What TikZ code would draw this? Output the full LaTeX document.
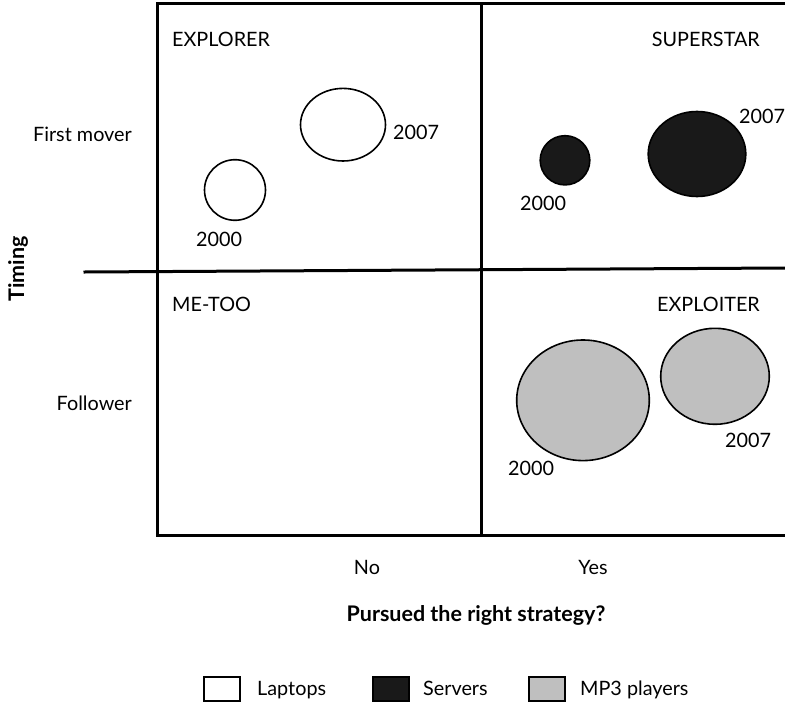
\documentclass[tikz,border=0pt]{standalone}
\usepackage{fontspec}
\setmainfont{Lato}
\begin{document}
\begin{tikzpicture}[x=1pt,y=-1pt,
  frame/.style={line width=3pt,line cap=rect},
  bubble/.style={line width=1.6pt},
  lab/.style={inner sep=0pt,font=\fontsize{19.8}{23}\selectfont},
  axis/.style={inner sep=0pt,font=\fontsize{21.5}{25}\selectfont\bfseries},
  keybox/.style={draw,line width=2pt,minimum width=36pt,minimum height=24pt,inner sep=0pt},
  laptop/.style={fill=white},
  server/.style={fill=black!90},
  mpthree/.style={fill=black!25}]
\useasboundingbox (0,0) rectangle (785,706);

% quadrant frame, open on the right
\draw[frame] (785,4) -- (157,4) -- (157,535) -- (785,535);
\draw[frame] (481,4) -- (481,535);
\draw[frame] (85,272) -- (785,268);

% quadrant titles
\node[lab,anchor=base west] (explorer) at (172,47) {EXPLORER};
\node[lab,anchor=base east] (superstar) at (760,47) {SUPERSTAR};
\node[lab,anchor=base west] (metoo) at (172,311) {ME-TOO};
\node[lab,anchor=base east] (exploiter) at (760,311.5) {EXPLOITER};

% vertical axis
\node[lab,anchor=base east] (first) at (132,141.5) {First mover};
\node[lab,anchor=base east] (follower) at (132,410.5) {Follower};
\node[axis,rotate=90] (timing) at (18,269) {Timing};

% horizontal axis
\node[lab,anchor=base] (no) at (367,574) {No};
\node[lab,anchor=base] (yes) at (593,574) {Yes};
\node[axis,anchor=base] (strategy) at (476,621) {Pursued the right strategy?};

% laptops
\draw[bubble,laptop] (235,190) ellipse [x radius=30.5,y radius=30.3];
\draw[bubble,laptop] (343,124.7) ellipse [x radius=42.5,y radius=36.3];
\node[lab,anchor=base west] (l00) at (196,246.5) {2000};
\node[lab,anchor=base west] (l07) at (393,140) {2007};

% servers
\draw[bubble,server] (565,160.3) ellipse [x radius=24.8,y radius=24.6];
\draw[bubble,server] (697,154) ellipse [x radius=48.8,y radius=42.5];
\node[lab,anchor=base west] (s00) at (520,210.5) {2000};
\node[lab,anchor=base west] (s07) at (739,124) {2007};

% MP3 players
\draw[bubble,mpthree] (583,400.3) ellipse [x radius=66.3,y radius=60.3];
\draw[bubble,mpthree] (715,376.3) ellipse [x radius=54.3,y radius=48];
\node[lab,anchor=base west] (m00) at (508,475) {2000};
\node[lab,anchor=base west] (m07) at (725,447.3) {2007};

% legend
\node[keybox,laptop] (k1) at (222.3,688.7) {};
\node[lab,anchor=base west] (t1) at (257,695) {Laptops};
\node[keybox,server] (k2) at (391,688.7) {};
\node[lab,anchor=base west] (t2) at (423,695) {Servers};
\node[keybox,mpthree] (k3) at (546.5,688.7) {};
\node[lab,anchor=base west] (t3) at (580,695) {MP3 players};
\end{tikzpicture}
\end{document}
